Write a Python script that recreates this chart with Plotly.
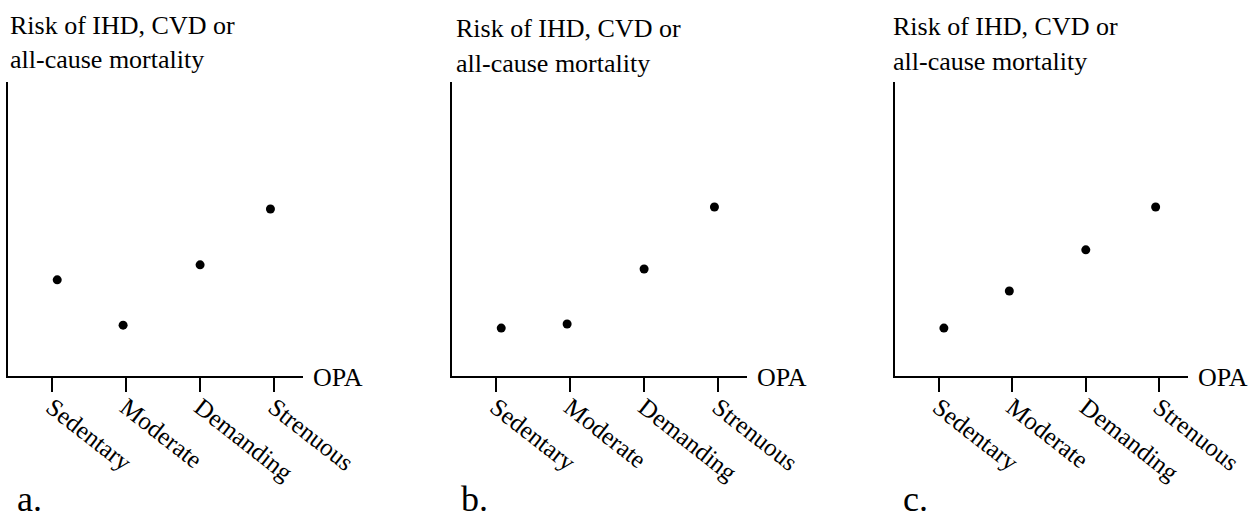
import plotly.graph_objects as go

W, H = 1250, 521

categories = ["Sedentary", "Moderate", "Demanding", "Strenuous"]
dot_x = [0.07, 0.96, 2.0, 2.95]          # where the dots sit along the OPA axis
risk_a = [3.27, 1.73, 3.78, 5.68]
risk_b = [1.63, 1.77, 3.64, 5.75]
risk_c = [1.63, 2.89, 4.29, 5.75]
panel_labels = ["a.", "b.", "c."]
y_title_1 = "Risk of IHD, CVD or"
y_title_2 = "all-cause mortality"
x_title = "OPA"

series = [risk_a, risk_b, risk_c]
# pixel layout of each panel: (axis left, axis right, axis top, axis bottom)
panels = [(8, 303, 82, 376), (452, 747, 82, 376), (895, 1188, 82, 376)]
title_left = [8, 454, 891]
title_dy = [0, 3, 1]
label_left = [15, 459, 901]

FONT = "Liberation Serif, Times New Roman, serif"

fig = go.Figure()
layout = dict(
    width=W, height=H, margin=dict(l=0, r=0, t=0, b=0, autoexpand=False),
    paper_bgcolor="white", plot_bgcolor="white", showlegend=False,
    font=dict(family=FONT, color="black"),
)
annotations = []
for i, (vals, (x0, x1, y0, y1)) in enumerate(zip(series, panels)):
    n = "" if i == 0 else str(i + 1)
    fig.add_trace(go.Scatter(
        x=dot_x, y=vals, mode="markers",
        marker=dict(color="black", size=9),
        xaxis="x" + n, yaxis="y" + n, hoverinfo="skip",
    ))
    layout["xaxis" + n] = dict(
        domain=[x0 / W, x1 / W], anchor="y" + n, automargin=False,
        range=[-0.595, 3.39], tickmode="array",
        tickvals=list(range(len(categories))), ticktext=categories,
        tickangle=38, ticks="outside", ticklen=14, tickwidth=2, tickcolor="black",
        ticklabelstandoff=-9,
        showline=True, linecolor="black", linewidth=2,
        showgrid=False, zeroline=False,
        tickfont=dict(family=FONT, size=25, color="black"),
    )
    layout["yaxis" + n] = dict(
        domain=[(H - y1) / H, (H - y0) / H], anchor="x" + n, automargin=False,
        range=[0, 10], showline=True, linecolor="black", linewidth=2,
        showticklabels=False, ticks="", showgrid=False, zeroline=False,
    )
    tl = title_left[i]
    dy = title_dy[i]
    annotations += [
        dict(text=y_title_1, x=tl / W, y=1 - (25 + dy) / H, xref="paper", yref="paper",
             xanchor="left", yanchor="middle", showarrow=False,
             font=dict(family=FONT, size=26, color="black")),
        dict(text=y_title_2, x=tl / W, y=1 - (60 + dy) / H, xref="paper", yref="paper",
             xanchor="left", yanchor="middle", showarrow=False,
             font=dict(family=FONT, size=26, color="black")),
        dict(text=x_title, x=(x1 + 8) / W, y=1 - 377 / H, xref="paper", yref="paper",
             xanchor="left", yanchor="middle", showarrow=False,
             font=dict(family=FONT, size=26, color="black")),
        dict(text=panel_labels[i], x=label_left[i] / W, y=0, xref="paper", yref="paper",
             xanchor="left", yanchor="bottom", showarrow=False,
             font=dict(family=FONT, size=36, color="black")),
    ]
layout["annotations"] = annotations
fig.update_layout(**layout)
fig.write_html("out.html")
